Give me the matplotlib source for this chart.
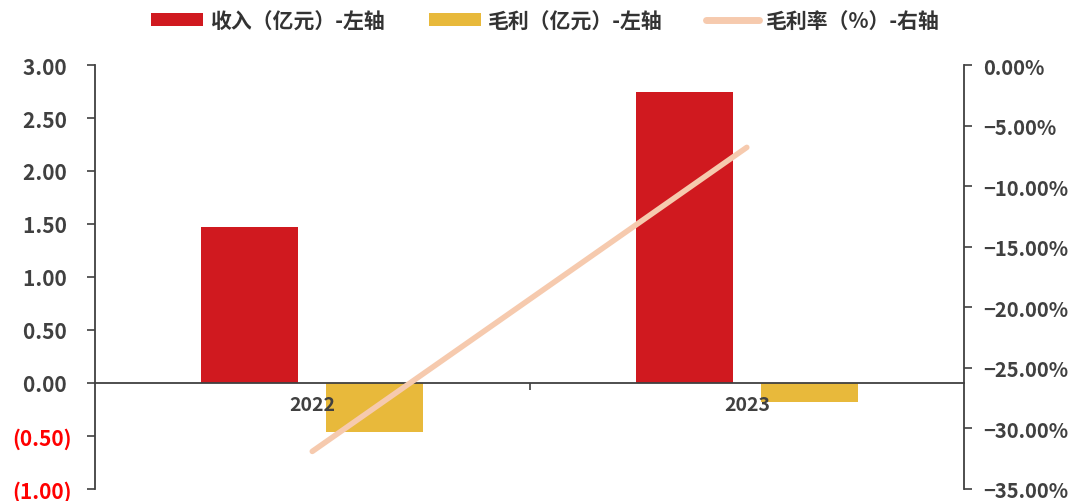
import matplotlib
matplotlib.use("Agg")
import matplotlib.pyplot as plt
from matplotlib.ticker import FuncFormatter, FixedLocator
from matplotlib.lines import Line2D
from matplotlib.patches import Patch
import numpy as np

plt.rcParams['font.family'] = ['Noto Sans CJK SC', 'DejaVu Sans']

years = ['2022', '2023']
revenue = [1.47, 2.75]          # 收入（亿元）
gross_profit = [-0.46, -0.18]   # 毛利（亿元）
gross_margin = [-31.9, -6.8]    # 毛利率（%）

labels = ['收入（亿元）-左轴', '毛利（亿元）-左轴', '毛利率（%）-右轴']
c_rev = '#D0191F'
c_gp = '#E8B93B'
c_gm = '#F6CAAE'
c_axis = '#404040'

fig = plt.figure(figsize=(10.86, 5.02), dpi=100)
ax = fig.add_axes([0.0875, 0.024, 0.8002, 0.8445])
ax2 = ax.twinx()
ax.set_axisbelow(False)

x = np.arange(len(years))
w = 0.223
off = 0.144
ax.bar(x - off, revenue, width=w, color=c_rev, zorder=2)
ax.bar(x + off, gross_profit, width=w, color=c_gp, zorder=2)
ax2.plot(x, gross_margin, color=c_gm, lw=4, solid_capstyle='round', zorder=3)

ax.set_xlim(-0.5, 1.5)
ax.set_ylim(-1.0, 3.0)
ax.set_yticks(np.arange(-1.0, 3.01, 0.5))
def lfmt(v, pos):
    if v < -1e-9:
        return '({:.2f})'.format(-v)
    return '{:.2f} '.format(v)
ax.yaxis.set_major_formatter(FuncFormatter(lfmt))
ax2.set_ylim(-35, 0)
ax2.set_yticks(np.arange(-35, 0.1, 5))
ax2.yaxis.set_major_formatter(FuncFormatter(lambda v, p: ('−' if v < -1e-9 else '') + '{:.2f}%'.format(abs(v))))

for a in (ax, ax2):
    a.spines['top'].set_visible(False)
    a.set_facecolor('none')
ax.spines['right'].set_visible(False)
ax2.spines['bottom'].set_visible(False)
ax2.spines['left'].set_visible(False)
ax.spines['bottom'].set_position(('data', 0))
for s in ('left', 'bottom'):
    ax.spines[s].set_color(c_axis)
    ax.spines[s].set_linewidth(1.3)
ax2.spines['right'].set_color(c_axis)
ax2.spines['right'].set_linewidth(1.3)

ax.xaxis.set_major_locator(FixedLocator([0.5]))
ax.xaxis.set_major_formatter(FuncFormatter(lambda v, p: ''))
ax.xaxis.set_minor_locator(FixedLocator(list(x)))
ax.set_xticklabels(years, minor=True)
ax.tick_params(axis='x', which='major', length=5, width=1.2, color=c_axis, direction='out')
ax.tick_params(axis='x', which='minor', length=0, pad=9, labelsize=14, labelcolor=c_axis)
ax.tick_params(axis='y', length=6, width=1.2, color=c_axis, labelsize=15, labelcolor=c_axis, pad=11)
ax2.tick_params(axis='y', length=6, width=1.2, color=c_axis, labelsize=14.5, labelcolor=c_axis, pad=8)
for t in ax.get_yticklabels():
    t.set_fontweight('bold')
for t, v in zip(ax.get_yticklabels(), ax.get_yticks()):
    if v < -1e-9:
        t.set_color('#FF0000')
for t in ax2.get_yticklabels():
    t.set_fontweight('bold')
for t in ax.get_xticklabels(minor=True):
    t.set_fontweight('bold')

handles = [Patch(facecolor=c_rev), Patch(facecolor=c_gp), Line2D([0], [0], color=c_gm, lw=5, solid_capstyle='round')]
fig.legend(handles, labels, loc='upper center', bbox_to_anchor=(0.502, 1.015), ncol=3, frameon=False,
           handlelength=2.5, handleheight=0.6, columnspacing=2.1, handletextpad=0.35,
           prop={'weight': 'bold', 'size': 15})
for t in fig.legends[0].get_texts():
    t.set_color('#333333')

fig.savefig('out.png', dpi=100)
